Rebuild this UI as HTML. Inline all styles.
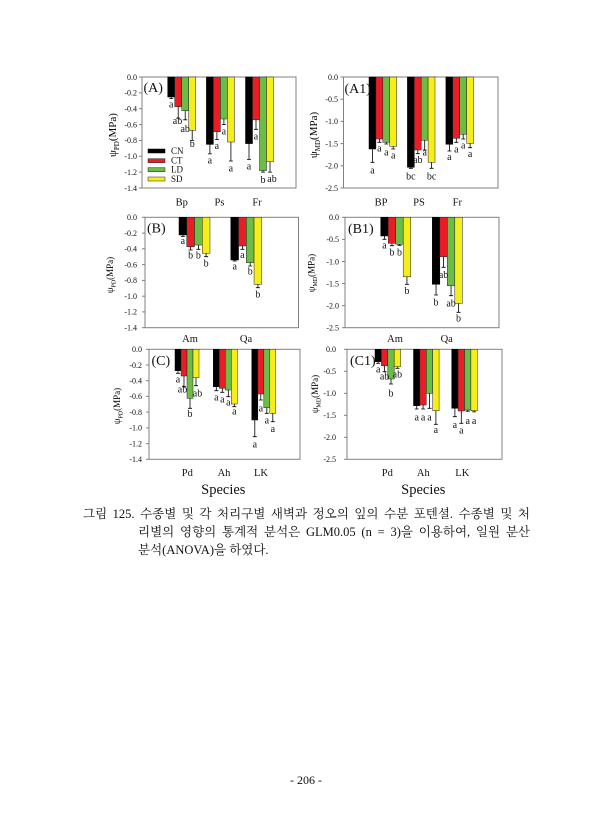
<!DOCTYPE html>
<html>
<head>
<meta charset="utf-8">
<style>
html,body{margin:0;padding:0;background:#fff;}
body{width:613px;height:840px;position:relative;overflow:hidden;}
svg{position:absolute;left:0;top:0;}
svg text{font-family:"Liberation Serif",serif;}
.cap{position:absolute;font-family:"Liberation Serif","Noto Serif CJK SC",serif;font-size:12.5px;line-height:15px;color:#111;white-space:nowrap;}
.j{text-align:justify;text-align-last:justify;white-space:normal;}
</style>
</head>
<body>
<svg width="613" height="840" viewBox="0 0 613 840" xmlns="http://www.w3.org/2000/svg">
<defs>
<style>
.fr{fill:none;stroke:#808080;stroke-width:1}
.tk{stroke:#808080;stroke-width:1}
.tl{font-size:8px;text-anchor:end;fill:#111}
.cn{fill:#000;stroke:#000;stroke-width:0.5}
.ct{fill:#ec1c24;stroke:#222;stroke-width:0.5}
.ld{fill:#6cbd45;stroke:#222;stroke-width:0.5}
.sd{fill:#f6ee1a;stroke:#222;stroke-width:0.5}
.eb{stroke:#000;stroke-width:0.8;fill:none}
.lb{font-size:10px;text-anchor:middle;fill:#111}
.cat{font-size:10.5px;text-anchor:middle;fill:#111}
.pn{font-size:14px;fill:#111}
.sp{font-size:14.5px;text-anchor:middle;fill:#111}
</style>
</defs>

<!-- ===================== PANEL A ===================== -->
<rect class="fr" x="142" y="77" width="154" height="111"/>
<g class="tk">
<line x1="139" y1="77" x2="142" y2="77"/><line x1="139" y1="92.9" x2="142" y2="92.9"/><line x1="139" y1="108.7" x2="142" y2="108.7"/><line x1="139" y1="124.6" x2="142" y2="124.6"/><line x1="139" y1="140.4" x2="142" y2="140.4"/><line x1="139" y1="156.3" x2="142" y2="156.3"/><line x1="139" y1="172.1" x2="142" y2="172.1"/><line x1="139" y1="188" x2="142" y2="188"/>
</g>
<g class="tl">
<text x="137" y="79.8">0.0</text><text x="137" y="95.7">-0.2</text><text x="137" y="111.5">-0.4</text><text x="137" y="127.4">-0.6</text><text x="137" y="143.2">-0.8</text><text x="137" y="159.1">-1.0</text><text x="137" y="174.9">-1.2</text><text x="137" y="190.8">-1.4</text>
</g>
<text transform="rotate(-90 116 135)" x="116" y="135" font-size="11" text-anchor="middle">ψ<tspan font-size="7" dy="3">PD</tspan><tspan dy="-3">(MPa)</tspan></text>
<!-- Bp -->
<rect class="cn" x="167.7" y="77" width="7" height="20"/>
<rect class="ct" x="174.7" y="77" width="7" height="29.7"/>
<rect class="ld" x="181.7" y="77" width="7" height="33.7"/>
<rect class="sd" x="188.7" y="77" width="7" height="53.3"/>
<!-- Ps -->
<rect class="cn" x="206.4" y="77" width="7" height="67.4"/>
<rect class="ct" x="213.4" y="77" width="7" height="54.7"/>
<rect class="ld" x="220.4" y="77" width="7" height="42"/>
<rect class="sd" x="227.4" y="77" width="7" height="65"/>
<!-- Fr -->
<rect class="cn" x="245.5" y="77" width="7" height="66.6"/>
<rect class="ct" x="252.5" y="77" width="7" height="42.8"/>
<rect class="ld" x="259.5" y="77" width="7" height="93.6"/>
<rect class="sd" x="266.5" y="77" width="7" height="84.8"/>
<path class="eb" d="M171.2 97V98.5M169.2 98.5H173.2 M178.2 106.7V118.2M176.2 118.2H180.2 M185.2 110.7V119.8M183.2 119.8H187.2 M192.2 130.3V140.4M190.2 140.4H194.2 M209.9 144.4V153.9M207.9 153.9H211.9 M216.9 131.7V139.6M214.9 139.6H218.9 M223.9 119V124.6M221.9 124.6H225.9 M230.9 142V161M228.9 161H232.9 M249 143.6V159.5M247 159.5H251 M256 119.8V129.3M254 129.3H258 M263 170.6V172.1M261 172.1H265 M270 161.8V172.1M268 172.1H272"/>
<g class="lb">
<text x="171.2" y="107.3">a</text><text x="177.5" y="124">ab</text><text x="185.2" y="132">ab</text><text x="192.2" y="147">b</text>
<text x="209.9" y="163.7">a</text><text x="216.9" y="149">a</text><text x="223.9" y="134.7">a</text><text x="230.9" y="171.3">a</text>
<text x="249" y="169.7">a</text><text x="256" y="139.7">a</text><text x="263" y="183">b</text><text x="272" y="182">ab</text>
</g>
<text class="pn" x="143.5" y="92">(A)</text>
<!-- legend -->
<rect class="cn" x="148" y="149" width="17" height="4"/>
<rect class="ct" x="148" y="158.7" width="17" height="4"/>
<rect class="ld" x="148" y="167.7" width="17" height="4"/>
<rect class="sd" x="148" y="177" width="17" height="4"/>
<g font-size="9" fill="#111">
<text x="171" y="154">CN</text><text x="171" y="163.7">CT</text><text x="171" y="172.7">LD</text><text x="171" y="182">SD</text>
</g>
<g class="cat"><text x="181.7" y="205.5">Bp</text><text x="219.5" y="205.5">Ps</text><text x="257" y="205.5">Fr</text></g>

<!-- ===================== PANEL A1 ===================== -->
<rect class="fr" x="343.5" y="77" width="154.5" height="111"/>
<g class="tk">
<line x1="340.5" y1="77" x2="343.5" y2="77"/><line x1="340.5" y1="99.2" x2="343.5" y2="99.2"/><line x1="340.5" y1="121.4" x2="343.5" y2="121.4"/><line x1="340.5" y1="143.6" x2="343.5" y2="143.6"/><line x1="340.5" y1="165.8" x2="343.5" y2="165.8"/><line x1="340.5" y1="188" x2="343.5" y2="188"/>
</g>
<g class="tl">
<text x="338" y="79.8">0.0</text><text x="338" y="102">-0.5</text><text x="338" y="124.2">-1.0</text><text x="338" y="146.4">-1.5</text><text x="338" y="168.6">-2.0</text><text x="338" y="190.8">-2.5</text>
</g>
<text transform="rotate(-90 317 135)" x="317" y="135" font-size="11" text-anchor="middle">ψ<tspan font-size="7" dy="3">MD</tspan><tspan dy="-3">(MPa)</tspan></text>
<rect class="cn" x="369" y="77" width="6.9" height="72"/>
<rect class="ct" x="375.9" y="77" width="6.9" height="62"/>
<rect class="ld" x="382.8" y="77" width="6.9" height="65.3"/>
<rect class="sd" x="389.7" y="77" width="6.9" height="69.3"/>
<rect class="cn" x="407.4" y="77" width="6.9" height="90.3"/>
<rect class="ct" x="414.3" y="77" width="6.9" height="73"/>
<rect class="ld" x="421.2" y="77" width="6.9" height="63.3"/>
<rect class="sd" x="428.1" y="77" width="6.9" height="85.3"/>
<rect class="cn" x="445.9" y="77" width="6.9" height="67.3"/>
<rect class="ct" x="452.8" y="77" width="6.9" height="61.3"/>
<rect class="ld" x="459.7" y="77" width="6.9" height="57.3"/>
<rect class="sd" x="466.6" y="77" width="6.9" height="66.3"/>
<path class="eb" d="M372.5 149V162.3M370.5 162.3H374.5 M379.4 139V142.3M377.4 142.3H381.4 M386.3 142.3V144M384.3 144H388.3 M393.2 146.3V149M391.2 149H395.2 M410.9 167.3V168.3M408.9 168.3H412.9 M417.8 150V153.7M415.8 153.7H419.8 M424.7 140.3V150M422.7 150H426.7 M431.6 162.3V168.3M429.6 168.3H433.6 M449.4 144.3V151M447.4 151H451.4 M456.3 138.3V142.3M454.3 142.3H458.3 M463.2 134.3V139M461.2 139H465.2 M470.1 143.3V147.7M468.1 147.7H472.1"/>
<g class="lb">
<text x="372.5" y="173.3">a</text><text x="379.4" y="151.7">a</text><text x="386.3" y="155.3">a</text><text x="393.2" y="158.7">a</text>
<text x="410.9" y="179.3">bc</text><text x="417.8" y="163">ab</text><text x="424.7" y="155.3">a</text><text x="431.6" y="179.3">bc</text>
<text x="449.4" y="160">a</text><text x="456.3" y="152.3">a</text><text x="463.2" y="148.3">a</text><text x="470.1" y="157">a</text>
</g>
<text class="pn" x="344.5" y="93">(A1)</text>
<g class="cat"><text x="381" y="205.5">BP</text><text x="419" y="205.5">PS</text><text x="457.3" y="205.5">Fr</text></g>

<!-- ===================== PANEL B ===================== -->
<rect class="fr" x="145" y="217.3" width="153.5" height="110.4"/>
<g class="tk">
<line x1="142" y1="217.3" x2="145" y2="217.3"/><line x1="142" y1="233.1" x2="145" y2="233.1"/><line x1="142" y1="248.8" x2="145" y2="248.8"/><line x1="142" y1="264.6" x2="145" y2="264.6"/><line x1="142" y1="280.4" x2="145" y2="280.4"/><line x1="142" y1="296.2" x2="145" y2="296.2"/><line x1="142" y1="311.9" x2="145" y2="311.9"/><line x1="142" y1="327.7" x2="145" y2="327.7"/>
</g>
<g class="tl">
<text x="137" y="220.1">0.0</text><text x="137" y="235.9">-0.2</text><text x="137" y="251.6">-0.4</text><text x="137" y="267.4">-0.6</text><text x="137" y="283.2">-0.8</text><text x="137" y="299">-1.0</text><text x="137" y="314.7">-1.2</text><text x="137" y="330.5">-1.4</text>
</g>
<text transform="rotate(-90 113 275)" x="113" y="275" font-size="9" text-anchor="middle">ψ<tspan font-size="6" dy="2.5">PD</tspan><tspan dy="-2.5">(MPa)</tspan></text>
<rect class="cn" x="179" y="217.3" width="7.75" height="17.7"/>
<rect class="ct" x="186.75" y="217.3" width="7.75" height="29.4"/>
<rect class="ld" x="194.5" y="217.3" width="7.75" height="27.7"/>
<rect class="sd" x="202.25" y="217.3" width="7.75" height="36"/>
<rect class="cn" x="230.8" y="217.3" width="7.75" height="42.7"/>
<rect class="ct" x="238.55" y="217.3" width="7.75" height="28.7"/>
<rect class="ld" x="246.3" y="217.3" width="7.75" height="45.4"/>
<rect class="sd" x="254.05" y="217.3" width="7.75" height="67"/>
<path class="eb" d="M182.9 235V236.5M180.9 236.5H184.9 M190.6 246.7V250M188.6 250H192.6 M198.4 245V249.3M196.4 249.3H200.4 M206.1 253.3V256.7M204.1 256.7H208.1 M234.7 260V261M232.7 261H236.7 M242.4 246V249.3M240.4 249.3H244.4 M250.2 262.7V266M248.2 266H252.2 M257.9 284.3V287.7M255.9 287.7H259.9"/>
<g class="lb">
<text x="182.9" y="244">a</text><text x="190.6" y="258.7">b</text><text x="198.4" y="258.7">b</text><text x="206.1" y="266.3">b</text>
<text x="234.7" y="269.7">a</text><text x="242.4" y="258">a</text><text x="250.2" y="274.7">b</text><text x="257.9" y="297.3">b</text>
</g>
<text class="pn" x="147" y="232.5">(B)</text>
<g class="cat"><text x="190" y="342">Am</text><text x="246" y="342">Qa</text></g>

<!-- ===================== PANEL B1 ===================== -->
<rect class="fr" x="345" y="217.3" width="154" height="110.4"/>
<g class="tk">
<line x1="342" y1="217.3" x2="345" y2="217.3"/><line x1="342" y1="239.4" x2="345" y2="239.4"/><line x1="342" y1="261.5" x2="345" y2="261.5"/><line x1="342" y1="283.5" x2="345" y2="283.5"/><line x1="342" y1="305.6" x2="345" y2="305.6"/><line x1="342" y1="327.7" x2="345" y2="327.7"/>
</g>
<g class="tl">
<text x="339" y="220.1">0.0</text><text x="339" y="242.2">-0.5</text><text x="339" y="264.3">-1.0</text><text x="339" y="286.3">-1.5</text><text x="339" y="308.4">-2.0</text><text x="339" y="330.5">-2.5</text>
</g>
<text transform="rotate(-90 314.5 273)" x="314.5" y="273" font-size="9" text-anchor="middle">ψ<tspan font-size="6" dy="2.5">MD</tspan><tspan dy="-2.5">(MPa)</tspan></text>
<rect class="cn" x="380.7" y="217.3" width="7.5" height="18.7"/>
<rect class="ct" x="388.2" y="217.3" width="7.5" height="26"/>
<rect class="ld" x="395.7" y="217.3" width="7.5" height="27"/>
<rect class="sd" x="403.2" y="217.3" width="7.5" height="59.4"/>
<rect class="cn" x="432.3" y="217.3" width="7.5" height="67"/>
<rect class="ct" x="439.8" y="217.3" width="7.5" height="39.4"/>
<rect class="ld" x="447.3" y="217.3" width="7.5" height="68.4"/>
<rect class="sd" x="454.8" y="217.3" width="7.5" height="86"/>
<path class="eb" d="M384.45 236V239.3M382.45 239.3H386.45 M391.95 243.3V245.7M389.95 245.7H393.95 M399.45 244.3V245.3M397.45 245.3H401.45 M406.95 276.7V284.3M404.95 284.3H408.95 M436.05 284.3V295M434.05 295H438.05 M443.55 256.7V267.3M441.55 267.3H445.55 M451.05 285.7V295.7M449.05 295.7H453.05 M458.55 303.3V312.3M456.55 312.3H460.55"/>
<g class="lb">
<text x="384.45" y="248.7">a</text><text x="391.95" y="255.7">b</text><text x="399.45" y="255.7">b</text><text x="406.95" y="294">b</text>
<text x="436.05" y="305.7">b</text><text x="443.55" y="278">ab</text><text x="451.05" y="306.7">ab</text><text x="458.55" y="321.3">b</text>
</g>
<text class="pn" x="348" y="233">(B1)</text>
<g class="cat"><text x="395" y="342">Am</text><text x="446.7" y="342">Qa</text></g>

<!-- ===================== PANEL C ===================== -->
<rect class="fr" x="149" y="349.3" width="151" height="110"/>
<g class="tk">
<line x1="146" y1="349.3" x2="149" y2="349.3"/><line x1="146" y1="365" x2="149" y2="365"/><line x1="146" y1="380.7" x2="149" y2="380.7"/><line x1="146" y1="396.4" x2="149" y2="396.4"/><line x1="146" y1="412.1" x2="149" y2="412.1"/><line x1="146" y1="427.9" x2="149" y2="427.9"/><line x1="146" y1="443.6" x2="149" y2="443.6"/><line x1="146" y1="459.3" x2="149" y2="459.3"/>
</g>
<g class="tl">
<text x="142" y="352.1">0.0</text><text x="142" y="367.8">-0.2</text><text x="142" y="383.5">-0.4</text><text x="142" y="399.2">-0.6</text><text x="142" y="414.9">-0.8</text><text x="142" y="430.7">-1.0</text><text x="142" y="446.4">-1.2</text><text x="142" y="462.1">-1.4</text>
</g>
<text transform="rotate(-90 120 406)" x="120" y="406" font-size="9" text-anchor="middle">ψ<tspan font-size="6" dy="2.5">PD</tspan><tspan dy="-2.5">(MPa)</tspan></text>
<rect class="cn" x="175" y="349.3" width="6" height="21.4"/>
<rect class="ct" x="181" y="349.3" width="6" height="26.7"/>
<rect class="ld" x="187" y="349.3" width="6" height="49"/>
<rect class="sd" x="193" y="349.3" width="6" height="28.4"/>
<rect class="cn" x="213.3" y="349.3" width="6" height="37.4"/>
<rect class="ct" x="219.3" y="349.3" width="6" height="39"/>
<rect class="ld" x="225.3" y="349.3" width="6" height="40.7"/>
<rect class="sd" x="231.3" y="349.3" width="6" height="54.7"/>
<rect class="cn" x="251.8" y="349.3" width="6" height="70.7"/>
<rect class="ct" x="257.8" y="349.3" width="6" height="44.7"/>
<rect class="ld" x="263.8" y="349.3" width="6" height="58.4"/>
<rect class="sd" x="269.8" y="349.3" width="6" height="64"/>
<path class="eb" d="M178 370.7V373.3M176 373.3H180 M184 376V386.7M182 386.7H186 M190 398.3V408.3M188 408.3H192 M196 377.7V385.7M194 385.7H198 M216.3 386.7V390.7M214.3 390.7H218.3 M222.3 388.3V392.3M220.3 392.3H224.3 M228.3 390V396.7M226.3 396.7H230.3 M234.3 404V406.7M232.3 406.7H236.3 M254.8 420V436.7M252.8 436.7H256.8 M260.8 394V400M258.8 400H262.8 M266.8 407.7V413.3M264.8 413.3H268.8 M272.8 413.3V421.7M270.8 421.7H274.8"/>
<g class="lb">
<text x="178" y="382.3">a</text><text x="182.5" y="392.3">ab</text><text x="190" y="417">b</text><text x="197.5" y="396.3">ab</text>
<text x="216.3" y="400.3">a</text><text x="222.3" y="402.3">a</text><text x="228.3" y="405.7">a</text><text x="234.3" y="414.7">a</text>
<text x="254.8" y="447.3">a</text><text x="260.8" y="411.3">a</text><text x="266.8" y="423.7">a</text><text x="272.8" y="432">a</text>
</g>
<text class="pn" x="151.5" y="365">(C)</text>
<g class="cat"><text x="187.3" y="476">Pd</text><text x="224" y="476">Ah</text><text x="261" y="476">LK</text></g>
<text class="sp" x="223.3" y="494">Species</text>

<!-- ===================== PANEL C1 ===================== -->
<rect class="fr" x="347" y="349.3" width="155" height="110"/>
<g class="tk">
<line x1="344" y1="349.3" x2="347" y2="349.3"/><line x1="344" y1="371.3" x2="347" y2="371.3"/><line x1="344" y1="393.3" x2="347" y2="393.3"/><line x1="344" y1="415.3" x2="347" y2="415.3"/><line x1="344" y1="437.3" x2="347" y2="437.3"/><line x1="344" y1="459.3" x2="347" y2="459.3"/>
</g>
<g class="tl">
<text x="336" y="352.1">0.0</text><text x="336" y="374.1">-0.5</text><text x="336" y="396.1">-1.0</text><text x="336" y="418.1">-1.5</text><text x="336" y="440.1">-2.0</text><text x="336" y="462.1">-2.5</text>
</g>
<text transform="rotate(-90 318 394)" x="318" y="394" font-size="9" text-anchor="middle">ψ<tspan font-size="6" dy="2.5">MD</tspan><tspan dy="-2.5">(MPa)</tspan></text>
<rect class="cn" x="375" y="349.3" width="6.4" height="12.4"/>
<rect class="ct" x="381.4" y="349.3" width="6.4" height="16.4"/>
<rect class="ld" x="387.8" y="349.3" width="6.4" height="29.7"/>
<rect class="sd" x="394.2" y="349.3" width="6.4" height="17.4"/>
<rect class="cn" x="413.5" y="349.3" width="6.4" height="56.4"/>
<rect class="ct" x="419.9" y="349.3" width="6.4" height="55.7"/>
<rect class="ld" x="426.3" y="349.3" width="6.4" height="44"/>
<rect class="sd" x="432.7" y="349.3" width="6.4" height="61.4"/>
<rect class="cn" x="451.7" y="349.3" width="6.4" height="59"/>
<rect class="ct" x="458.1" y="349.3" width="6.4" height="61.7"/>
<rect class="ld" x="464.5" y="349.3" width="6.4" height="60.7"/>
<rect class="sd" x="470.9" y="349.3" width="6.4" height="61.4"/>
<path class="eb" d="M378.2 361.7V363.3M376.2 363.3H380.2 M384.6 365.7V371.7M382.6 371.7H386.6 M391 379V384M389 384H393 M397.4 366.7V368.3M395.4 368.3H399.4 M416.7 405.7V409M414.7 409H418.7 M423.1 405V409M421.1 409H425.1 M429.5 393.3V408.3M427.5 408.3H431.5 M435.9 410.7V424.3M433.9 424.3H437.9 M454.9 408.3V416.7M452.9 416.7H456.9 M461.3 411V423.3M459.3 423.3H463.3 M467.7 410V411.2M465.7 411.2H469.7 M474.1 410.7V411.9M472.1 411.9H476.1"/>
<g class="lb">
<text x="378.2" y="372.3">a</text><text x="384.6" y="379.7">ab</text><text x="391" y="396.3">b</text><text x="397.4" y="377.3">ab</text>
<text x="416.7" y="420.7">a</text><text x="423.1" y="420.7">a</text><text x="429.5" y="420.7">a</text><text x="435.9" y="433">a</text>
<text x="454.9" y="428">a</text><text x="461.3" y="433.7">a</text><text x="467.7" y="424">a</text><text x="474.1" y="424">a</text>
</g>
<text class="pn" x="350" y="365">(C1)</text>
<g class="cat"><text x="387.3" y="476">Pd</text><text x="423.3" y="476">Ah</text><text x="462.3" y="476">LK</text></g>
<text class="sp" x="423.3" y="494">Species</text>

<!-- page number -->
<text x="306" y="784" font-size="12" text-anchor="middle" fill="#111">- 206 -</text>
</svg>

<div class="cap j" style="left:83px;top:507px;width:447px;">그림 125. 수종별 및 각 처리구별 새벽과 정오의 잎의 수분 포텐셜. 수종별 및 처</div>
<div class="cap j" style="left:138px;top:525px;width:392px;">리별의 영향의 통계적 분석은 GLM0.05 (n = 3)을 이용하여, 일원 분산</div>
<div class="cap" style="left:138px;top:542.5px;">분석(ANOVA)을 하였다.</div>
</body>
</html>
